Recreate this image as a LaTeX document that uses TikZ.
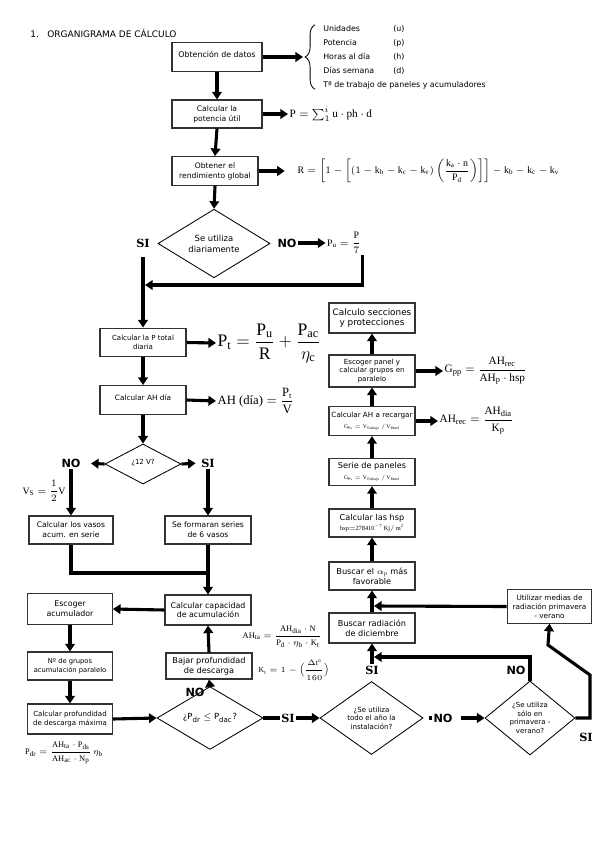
\RequirePackage{fix-cm}
\documentclass[tikz,border=0pt]{standalone}
\usepackage{amsmath}
\usepackage{fontspec}
\setmainfont{Liberation Serif}
\newfontfamily\verd{DejaVu Sans}
\newfontfamily\serifb{DejaVu Serif}
\usetikzlibrary{arrows.meta,shapes.geometric,decorations.pathreplacing}
\newcommand{\tam}[2]{\fontsize{#1}{#2}\selectfont}

\begin{document}
\begin{tikzpicture}[x=0.025cm, y=-0.025cm,
    caja/.style={rectangle, draw=black!80, line width=0.75pt, align=center, inner sep=1pt, minimum width=2.15cm, minimum height=0.72cm, font=\verd\tam{5.4}{7}},
    rombo/.style={diamond, draw=black, line width=0.6pt, align=center, inner sep=0pt, font=\verd\tam{5}{6}},
    flecha/.style={line width=2.2pt, -{Triangle[length=1.9mm,width=2.4mm]}},
    linea/.style={line width=2.2pt},
    si/.style={font=\serifb\bfseries\tam{8}{9}, inner sep=1pt},
    no/.style={font=\verd\bfseries\tam{8}{9}, inner sep=1pt},
    formula/.style={inner sep=1pt, font=\tam{7}{8}},
  ]
  \useasboundingbox (0,0) rectangle (599,848);

  \node[anchor=west, inner sep=0pt, font=\verd\tam{6.4}{7}] (titulo) at (30,33) {1.\hspace{6pt}ORGANIGRAMA DE CÁLCULO};

  \node[caja, minimum width=2.25cm, minimum height=0.73cm, font=\verd\tam{5.6}{7}] (datos) at (217,57) {\raisebox{3.5pt}{Obtención de datos}};
  \node[anchor=west, align=left, inner sep=0pt, font=\verd\tam{5.6}{10}] (lista) at (323,57)
  {\makebox[1.75cm][l]{Unidades}(u)\\
   \makebox[1.75cm][l]{Potencia}(p)\\
   \makebox[1.75cm][l]{Horas al día}(h)\\
   \makebox[1.75cm][l]{Días semana}(d)\\
   Tª de trabajo de paneles y acumuladores};
  \draw[decorate, decoration={brace, amplitude=7pt}, line width=0.6pt]
    ([xshift=-0.2cm]lista.south west) -- ([xshift=-0.2cm]lista.north west);
  \coordinate (llave) at ([xshift=-0.5cm]lista.west);

  \node[caja, minimum width=2.25cm, minimum height=0.7cm] (potencia) at (217,114) {Calcular la\\potencia útil};
  \node[formula, anchor=west, font=\tam{8}{9}] (fP) at (288,114) {$\mathrm{P}=\sum\nolimits_{1}^{i}\mathrm{u\cdot ph\cdot d}$};
  \node[caja] (rend) at (215,171) {Obtener el\\rendimiento global};
  \node[formula, anchor=west] (fR) at (296,171)
  {$\mathrm{R}=\left[1-\left[\left(1-\mathrm{k_b}-\mathrm{k_c}-\mathrm{k_v}\right)\left(\dfrac{\mathrm{k_a}\cdot\mathrm{n}}{\mathrm{P_d}}\right)\right]\right]-\mathrm{k_b}-\mathrm{k_c}-\mathrm{k_v}$};

  \node[rombo, minimum width=2.8cm, minimum height=1.425cm, font=\verd\tam{6}{7.8}] (diario) at (214,243.5) {Se utiliza\\diariamente};
  \node[si] (si1) at (143,243) {SI};
  \node[no] (no1) at (287,243) {NO};
  \node[formula] (fPu) at (344,243) {$\mathrm{P_u}=\dfrac{\mathrm{P}}{7}$};
  \coordinate (union1) at (145,285);

  \node[caja, font=\verd\tam{5}{6.5}] (ptotal) at (143,342.5) {Calcular la P total\\diaria};
  \node[formula, anchor=west, font=\tam{12.5}{14}] (fPt) at (216,343) {$\mathrm{P_t}=\dfrac{\mathrm{P_u}}{\mathrm{R}}+\dfrac{\mathrm{P_{ac}}}{\eta_{\mathrm{c}}}$};
  \node[caja, font=\verd\tam{5.2}{6.5}] (ahdia) at (143,400) {\raisebox{4pt}{Calcular AH día}};
  \node[formula, anchor=west, font=\tam{9}{10}] (fAH) at (216,401) {$\text{AH (día)}=\dfrac{\mathrm{P_t}}{\mathrm{V}}$};

  \node[rombo, minimum width=1.9cm, minimum height=1cm] (doce) at (143,464) {\raisebox{3pt}{¿12 V?}};
  \node[no] (no2) at (71,463) {NO};
  \node[si] (si2) at (208,463) {SI};
  \node[formula] (fVs) at (44,491) {$\mathrm{V_S}=\dfrac{1}{2}\mathrm{V}$};
  \node[caja, minimum width=2.1cm, minimum height=0.7cm] (vserie) at (71,530) {Calcular los vasos\\acum. en serie};
  \node[caja, minimum height=0.7cm] (vseis) at (208,530) {Se formaran series\\de 6 vasos};
  \coordinate (union2) at (208,573);

  \node[caja, minimum height=0.75cm, font=\verd\tam{5.6}{7}] (capac) at (208,610) {Calcular capacidad\\de acumulación};
  \node[caja, minimum width=2.12cm, minimum height=0.78cm, font=\verd\tam{5.6}{7}] (escacu) at (70,609) {Escoger\\acumulador};
  \node[caja, minimum width=2.12cm, minimum height=0.7cm, font=\verd\tam{4.8}{6.5}] (grupos) at (70,666) {Nº de grupos\\acumulación paralelo};
  \node[caja, minimum width=2.12cm, minimum height=0.75cm, font=\verd\tam{5}{6.5}] (profmax) at (70,719) {Calcular profundidad\\de descarga máxima};
  \node[formula, font=\tam{6}{7}] (fPdr) at (64,753) {$\mathrm{P_{dr}}=\dfrac{\mathrm{AH_{ta}}\cdot\mathrm{P_{ds}}}{\mathrm{AH_{ac}}\cdot\mathrm{N_p}}\,\eta_{\mathrm{b}}$};
  \node[rombo, minimum width=2.65cm, minimum height=1.05cm, font=\verd\tam{6}{7}] (compara) at (210,718) {¿P\textsubscript{dr} $\leq$ P\textsubscript{dac}?};
  \node[no] (no3) at (195,692) {NO};
  \node[si] (si3) at (288,718) {SI};
  \node[caja, minimum height=0.65cm, font=\verd\tam{5.8}{7}] (bajar) at (209,666) {Bajar profundidad\\de descarga};
  \node[formula, font=\tam{6}{7}] (fAHta) at (282,637) {$\mathrm{AH_{ta}}=\dfrac{\mathrm{AH_{dia}}\cdot\mathrm{N}}{\mathrm{P_d}\cdot\eta_{\mathrm{b}}\cdot\mathrm{K_t}}$};
  \node[formula, font=\tam{5.5}{6.5}] (fKt) at (294,670) {$\mathrm{K_t}=1-\Bigl(\dfrac{\Delta\mathrm{t^o}}{160}\Bigr)$};

  \node[rombo, minimum width=2.575cm, minimum height=1.825cm] (anio) at (371.5,718) {¿Se utiliza\\todo el año la\\instalación?};
  \node[no] (noA) at (443,718) {NO};
  \node[rombo, minimum width=2.25cm, minimum height=1.85cm] (prima) at (530,718) {¿Se utiliza\\sólo en\\primavera -\\verano?};
  \node[si] (siA) at (372,670) {SI};
  \node[no] (noB) at (516,670) {NO};
  \node[si] (siB) at (586,737) {SI};
  \coordinate (union3) at (374,657);
  \coordinate (codo1) at (590,718);
  \coordinate (codo2) at (590,675);
  \coordinate (codo3) at (548,645);

  \node[caja, minimum width=2.12cm, minimum height=0.83cm, font=\verd\tam{5.2}{6.5}] (medias) at (549.5,606.5) {Utilizar medias de\\radiación primavera\\- verano};
  \coordinate (union4) at (374,606);

  \node[caja, minimum height=0.75cm, font=\verd\tam{5.8}{7}] (radic) at (372,628) {Buscar radiación\\de diciembre};
  \node[caja, minimum height=0.7cm, font=\verd\tam{5.8}{7}] (alfa) at (372,576) {Buscar el $\alpha_{\mathrm{p}}$ más\\favorable};
  \node[caja, minimum height=0.7cm, font=\verd\tam{5.8}{7}] (hsp) at (372,523) {Calcular las hsp\\{\tam{4.5}{5}$\mathrm{hsp{=}278410^{-7}\,Kj/\,m^{2}}$}};
  \node[caja, minimum height=0.68cm, font=\verd\tam{5.8}{7.5}] (serie) at (372,472) {Serie de paneles\\{\tam{4}{5}$\mathrm{G_{Ps}=V_{Trabajo}\,/\,V_{Panel}}$}};
  \node[caja, minimum height=0.73cm, font=\verd\tam{5.1}{7.5}] (recarga) at (372,421) {Calcular AH a recargar\\{\tam{4}{5}$\mathrm{G_{Ps}=V_{Trabajo}\,/\,V_{Panel}}$}};
  \node[caja, minimum height=0.8cm, font=\verd\tam{5}{6}] (panel) at (372,371) {Escoger panel y\\calcular grupos en\\paralelo};
  \node[caja, minimum height=0.75cm, font=\verd\tam{6.3}{7.5}] (secc) at (372,318) {Calculo secciones\\y protecciones};
  \node[formula, anchor=west, font=\tam{8}{9}] (fGpp) at (443,371) {$\mathrm{G_{pp}}=\dfrac{\mathrm{AH_{rec}}}{\mathrm{AH_p}\cdot\mathrm{hsp}}$};
  \node[formula, anchor=west, font=\tam{8}{9}] (fAHrec) at (438,421) {$\mathrm{AH_{rec}}=\dfrac{\mathrm{AH_{dia}}}{\mathrm{K_p}}$};

  \draw[flecha] (datos.east) -- (datos.east -| llave);
  \draw[flecha] (datos.south) -- (potencia.north);
  \draw[flecha] (potencia.east) -- (fP.west);
  \draw[flecha] (potencia.south) -- (rend.north);
  \draw[flecha, shorten >=0.28cm] (rend.east) -- (fR.west);
  \draw[flecha] (rend.south) -- (diario.north);
  \draw[flecha] (no1.east) -- (fPu.west);
  \draw[flecha] (fPu.south east) |- (union1);
  \draw[flecha, shorten <=0.2cm] (si1.south) -- (ptotal.north);
  \draw[flecha] (ptotal.east) -- (fPt.west);
  \draw[flecha] (ptotal.south) -- (ahdia.north);
  \draw[flecha] (ahdia.east) -- (fAH.west);
  \draw[flecha] (ahdia.south) -- (doce.north);
  \draw[flecha, shorten >=0.22cm] (doce.west) -- (no2.east);
  \draw[flecha, shorten >=0.1cm] (doce.east) -- (si2.west);
  \draw[flecha] (no2.south) -- (vserie.north);
  \draw[flecha] (si2.south) -- (vseis.north);
  \draw[linea] (vserie.south) |- (union2);
  \draw[flecha] (vseis.south) -- (capac.north);
  \draw[flecha] (capac.west) -- (escacu.east);
  \draw[flecha] (escacu.south) -- (grupos.north);
  \draw[flecha] (grupos.south) -- (profmax.north);
  \draw[flecha] (profmax.east) -- (compara.west);
  \draw[flecha] (compara.north) -- (bajar.south);
  \draw[flecha] (bajar.north) -- (capac.south);
  \draw[linea] (compara.east) -- (si3.west);
  \draw[flecha] (si3.east) -- (anio.west);
  \draw[linea, shorten <=0.13cm] (anio.east) -- (noA.west);
  \draw[flecha, shorten <=0.17cm] (noA.east) -- (prima.west);
  \draw[flecha] (siA.north) -- (radic.south);
  \draw[flecha] (prima.north) |- (union3);
  \draw[flecha] (prima.east) -- (codo1) -- (codo2) -- (codo3) -- (medias.south);
  \draw[flecha] (medias.west) -- (union4);
  \draw[flecha] (radic.north) -- (alfa.south);
  \draw[flecha] (alfa.north) -- (hsp.south);
  \draw[flecha] (hsp.north) -- (serie.south);
  \draw[flecha] (serie.north) -- (recarga.south);
  \draw[flecha] (recarga.north) -- (panel.south);
  \draw[flecha] (panel.north) -- (secc.south);
  \draw[flecha] (panel.east) -- (fGpp.west);
  \draw[flecha] (recarga.east) -- (fAHrec.west);
\end{tikzpicture}
\end{document}
